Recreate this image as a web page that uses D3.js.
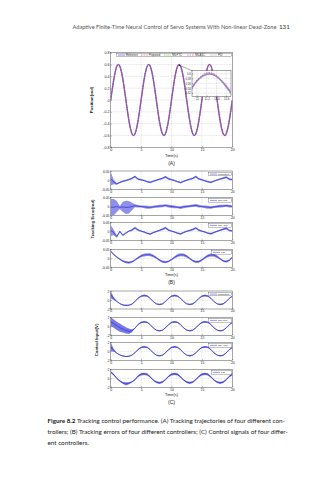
<!DOCTYPE html>
<html>
<head>
<meta charset="utf-8">
<script src="https://cdn.jsdelivr.net/npm/d3@7"></script>
<style>
  body { margin: 0; background: #fff; }
  svg { display: block; }
</style>
</head>
<body>
<div id="chart"></div>
<script>
// DATA
const time = [0,0.5,1,1.5,2,2.5,3,3.5,4,4.5,5,5.5,6,6.5,7,7.5,8,8.5,9,9.5,10,10.5,11,11.5,12,12.5,13,13.5,14,14.5,15,15.5,16,16.5,17,17.5,18,18.5,19,19.5,20];

// (A) position, rad
const posRef  = [0,0.35,0.57,0.57,0.35,0,-0.35,-0.57,-0.57,-0.35,0,0.35,0.57,0.57,0.35,0,-0.35,-0.57,-0.57,-0.35,0,0.35,0.57,0.57,0.35,0,-0.35,-0.57,-0.57,-0.35,0,0.35,0.57,0.57,0.35,0,-0.35,-0.57,-0.57,-0.35,0];
const posCtl1 = [0,0.34,0.57,0.571,0.352,0.002,-0.349,-0.569,-0.571,-0.352,0,0.35,0.57,0.571,0.351,0.001,-0.35,-0.57,-0.571,-0.351,0,0.35,0.57,0.571,0.351,0.001,-0.35,-0.57,-0.571,-0.351,0,0.35,0.57,0.571,0.351,0.001,-0.35,-0.57,-0.571,-0.351,0];
const posCtl2 = [0,0.33,0.565,0.572,0.353,0.003,-0.348,-0.568,-0.572,-0.353,0,0.35,0.571,0.572,0.352,0.002,-0.349,-0.57,-0.572,-0.352,0,0.35,0.571,0.572,0.352,0.002,-0.349,-0.57,-0.572,-0.352,0,0.35,0.571,0.572,0.352,0.002,-0.349,-0.57,-0.572,-0.352,0];
const posCtl3 = [0,0.34,0.568,0.57,0.35,0.001,-0.35,-0.57,-0.57,-0.351,0,0.35,0.57,0.57,0.35,0,-0.35,-0.57,-0.57,-0.35,0,0.35,0.57,0.57,0.35,0,-0.35,-0.57,-0.57,-0.35,0,0.35,0.57,0.57,0.35,0,-0.35,-0.57,-0.57,-0.35,0];
const posPID  = [0,0.32,0.56,0.574,0.356,0.006,-0.345,-0.566,-0.574,-0.355,-0.004,0.347,0.568,0.574,0.355,0.004,-0.347,-0.568,-0.574,-0.355,-0.004,0.347,0.568,0.574,0.355,0.004,-0.347,-0.568,-0.574,-0.355,-0.004,0.347,0.568,0.574,0.355,0.004,-0.347,-0.568,-0.574,-0.355,-0.004];
const posNames = ["Reference", "Proposed", "NN-FTC", "NN-ASC", "PID"];

// (A) zoomed peak near t = 11.25
const zoomTime = [10.9,11.0,11.1,11.2,11.3,11.4,11.5,11.6,11.7];
const zoomRef  = [0.540,0.568,0.586,0.596,0.597,0.588,0.570,0.547,0.519];
const zoomCtl1 = [0.545,0.572,0.590,0.601,0.602,0.592,0.574,0.551,0.523];
const zoomCtl2 = [0.542,0.570,0.589,0.600,0.599,0.587,0.567,0.542,0.513];
const zoomCtl3 = [0.544,0.573,0.592,0.603,0.603,0.593,0.575,0.553,0.526];
const zoomPID  = [0.543,0.571,0.588,0.598,0.598,0.589,0.571,0.548,0.520];

// (B) tracking errors, rad  (line value, chattering half-width)
const err1  = [0.008,-0.01,-0.02,-0.012,-0.006,-0.002,0.004,0.01,0.02,0.006,0.002,-0.002,-0.008,-0.012,-0.006,0,0.005,0.01,0.018,0.008,0.003,-0.002,-0.008,-0.013,-0.006,0,0.005,0.01,0.019,0.007,0.002,-0.003,-0.009,-0.012,-0.005,0.001,0.006,0.011,0.016,0.006,0.003];
const band1 = [0.037,0.012,0.005,0.004,0.004,0.004,0.004,0.005,0.006,0.005,0.004,0.004,0.004,0.005,0.004,0.004,0.004,0.005,0.006,0.005,0.004,0.004,0.004,0.005,0.004,0.004,0.004,0.005,0.006,0.005,0.004,0.004,0.004,0.005,0.004,0.004,0.004,0.005,0.006,0.005,0.004];
const err2  = [-0.004,-0.004,0,-0.005,-0.002,-0.005,-0.004,0,0.004,0.001,0,-0.002,-0.004,-0.005,-0.002,0,0.002,0.003,0.006,0.002,0,-0.002,-0.004,-0.006,-0.002,0,0.002,0.004,0.006,0.002,0,-0.002,-0.004,-0.005,-0.002,0,0.002,0.003,0.005,0.002,0];
const band2 = [0.045,0.045,0.03,0.008,0.028,0.036,0.034,0.02,0.008,0.007,0.006,0.007,0.008,0.007,0.006,0.007,0.008,0.007,0.006,0.007,0.008,0.007,0.006,0.007,0.008,0.007,0.006,0.007,0.008,0.007,0.006,0.007,0.008,0.007,0.006,0.007,0.008,0.007,0.006,0.007,0.006];
const err3  = [0.006,-0.005,-0.028,0,-0.02,-0.008,0.002,0.008,0.02,0.008,0.002,-0.003,-0.01,-0.014,-0.006,0,0.006,0.012,0.02,0.008,0.002,-0.003,-0.009,-0.013,-0.005,0.001,0.006,0.011,0.019,0.007,0.002,-0.003,-0.009,-0.012,-0.005,0.001,0.007,0.012,0.017,0.006,0.003];
const band3 = [0.03,0.015,0.006,0.005,0.005,0.004,0.004,0.005,0.006,0.005,0.004,0.004,0.004,0.005,0.004,0.004,0.004,0.005,0.006,0.005,0.004,0.004,0.004,0.005,0.004,0.004,0.004,0.005,0.006,0.005,0.004,0.004,0.004,0.005,0.004,0.004,0.004,0.005,0.006,0.005,0.004];
const err4  = [0.04,0.022,0.008,-0.004,-0.014,-0.02,-0.022,-0.018,-0.008,0.004,0.014,0.019,0.021,0.02,0.014,0.004,-0.008,-0.017,-0.02,-0.016,-0.006,0.006,0.016,0.02,0.019,0.012,0,-0.012,-0.018,-0.017,-0.008,0.005,0.015,0.019,0.018,0.01,-0.002,-0.013,-0.017,-0.01,0.006];
const band4 = [0.004,0.004,0.004,0.004,0.005,0.006,0.006,0.005,0.004,0.005,0.007,0.008,0.008,0.008,0.007,0.005,0.005,0.006,0.006,0.005,0.005,0.006,0.008,0.008,0.008,0.007,0.005,0.005,0.006,0.006,0.005,0.006,0.008,0.008,0.008,0.007,0.005,0.005,0.006,0.005,0.005];

// (C) control inputs, V
const u1  = [1.2,0.3,-0.3,-0.8,-1.1,-1.2,-1.15,-0.9,-0.3,0.4,0.85,1.0,0.88,0.35,-0.35,-0.85,-1.0,-0.87,-0.35,0.35,0.85,1.0,0.86,0.35,-0.35,-0.85,-1.0,-0.86,-0.35,0.35,0.85,1.0,0.87,0.35,-0.35,-0.85,-1.0,-0.86,-0.35,0.35,0.85];
const ub1 = [0.8,0.3,0.08,0.08,0.1,0.12,0.1,0.08,0.08,0.1,0.15,0.2,0.15,0.08,0.08,0.1,0.15,0.12,0.08,0.08,0.15,0.2,0.15,0.08,0.08,0.1,0.15,0.12,0.08,0.08,0.15,0.2,0.15,0.08,0.08,0.1,0.15,0.12,0.08,0.08,0.15];
const u2  = [1.0,0.6,0.1,-0.3,-0.6,-0.9,-1.1,-1.0,-0.4,0.4,0.85,1.0,0.88,0.35,-0.35,-0.85,-1.0,-0.87,-0.35,0.35,0.85,1.0,0.86,0.35,-0.35,-0.85,-1.0,-0.86,-0.35,0.35,0.85,1.0,0.87,0.35,-0.35,-0.85,-1.0,-0.86,-0.35,0.35,0.85];
const ub2 = [1.0,0.9,0.9,0.9,0.8,0.7,0.6,0.3,0.1,0.1,0.15,0.2,0.15,0.08,0.08,0.1,0.15,0.12,0.08,0.08,0.15,0.2,0.15,0.08,0.08,0.1,0.15,0.12,0.08,0.08,0.15,0.2,0.15,0.08,0.08,0.1,0.15,0.12,0.08,0.08,0.15];
const u3  = [1.0,0.2,-0.4,-0.8,-1.05,-1.15,-1.1,-0.85,-0.3,0.4,0.85,1.0,0.88,0.35,-0.35,-0.85,-1.0,-0.87,-0.35,0.35,0.85,1.0,0.86,0.35,-0.35,-0.85,-1.0,-0.86,-0.35,0.35,0.85,1.0,0.87,0.35,-0.35,-0.85,-1.0,-0.86,-0.35,0.35,0.85];
const ub3 = [1.0,0.3,0.08,0.08,0.1,0.12,0.1,0.08,0.08,0.1,0.15,0.2,0.15,0.08,0.08,0.1,0.15,0.12,0.08,0.08,0.15,0.2,0.15,0.08,0.08,0.1,0.15,0.12,0.08,0.08,0.15,0.2,0.15,0.08,0.08,0.1,0.15,0.12,0.08,0.08,0.15];
const u4  = [1.4,0.8,0.0,-0.6,-1.0,-1.25,-1.1,-0.8,-0.3,0.5,0.9,1.0,0.85,0.3,-0.4,-0.85,-1.0,-0.85,-0.3,0.4,0.9,1.0,0.85,0.3,-0.4,-0.85,-1.0,-0.85,-0.3,0.4,0.9,1.0,0.85,0.3,-0.4,-0.85,-1.0,-0.85,-0.3,0.4,0.9];
const ub4 = [0.2,0.2,0.15,0.15,0.2,0.35,0.2,0.15,0.15,0.2,0.25,0.25,0.25,0.15,0.15,0.2,0.25,0.2,0.15,0.15,0.25,0.25,0.25,0.15,0.15,0.2,0.25,0.2,0.15,0.15,0.25,0.25,0.25,0.15,0.15,0.2,0.25,0.2,0.15,0.15,0.25];

const ctlNames = ["Proposed", "NN-FTC", "NN-ASC", "PID"];

// ticks
const timeTicks = [0, 5, 10, 15, 20];
const posTicks = [-0.8, -0.6, -0.4, -0.2, 0, 0.2, 0.4, 0.6, 0.8];
const errTicks = [-0.05, 0, 0.05];
const uTicks = [-2, 0, 2];
const zoomXTicks = [11, 11.2, 11.4, 11.6];
const zoomYTicks = [0.52, 0.54, 0.56, 0.58, 0.6];

// LAYOUT
const W = 319, H = 480;
const left = 110.7, right = 232.3;
const axisFont = "'Liberation Sans', Arial, sans-serif";
const pageFont = "Lato, 'Open Sans', sans-serif";
const blue = "#3434d0";

const svg = d3.select("#chart").append("svg")
    .attr("width", W).attr("height", H)
    .style("font-family", axisFont);

const defs = svg.append("defs");
let clipId = 0;

// MATLAB style frame: grid, inward ticks, box
function frame(x, y, xTicks, yTicks, fs, opt = {}) {
    const g = svg.append("g");
    const [x0, x1] = x.range();
    const [yb, yt] = y.range();
    if (opt.grid !== false) {
        g.selectAll(".gx").data(xTicks.filter(d => x(d) > x0 + 0.5 && x(d) < x1 - 0.5)).join("line")
            .attr("x1", d => x(d)).attr("x2", d => x(d)).attr("y1", yt).attr("y2", yb)
            .attr("stroke", "#888").attr("stroke-width", 0.3).attr("stroke-dasharray", "0.7,0.9");
        g.selectAll(".gy").data(yTicks.filter(d => y(d) < yb - 0.5 && y(d) > yt + 0.5)).join("line")
            .attr("y1", d => y(d)).attr("y2", d => y(d)).attr("x1", x0).attr("x2", x1)
            .attr("stroke", "#888").attr("stroke-width", 0.3).attr("stroke-dasharray", "0.7,0.9");
    }
    const ax = g.append("g").attr("transform", `translate(0,${yb})`)
        .call(d3.axisBottom(x).tickValues(xTicks).tickSize(-1.2).tickSizeOuter(0).tickPadding(1).tickFormat(d => String(d)));
    const ay = g.append("g").attr("transform", `translate(${x0},0)`)
        .call(d3.axisLeft(y).tickValues(yTicks).tickSize(-1.2).tickSizeOuter(0).tickPadding(1.2).tickFormat(d => String(d)));
    [ax, ay].forEach(a => {
        a.attr("font-size", fs).attr("font-family", axisFont);
        a.selectAll("path.domain").remove();
        a.selectAll(".tick line").attr("stroke", "#000").attr("stroke-width", 0.3);
        a.selectAll("text").attr("fill", "#222");
    });
    g.append("rect").attr("x", x0).attr("y", yt).attr("width", x1 - x0).attr("height", yb - yt)
        .attr("fill", "none").attr("stroke", "#000").attr("stroke-width", 0.35);
    return g;
}

function clipFor(x, y) {
    const id = "clip" + (clipId++);
    const [x0, x1] = x.range();
    const [yb, yt] = y.range();
    defs.append("clipPath").attr("id", id).append("rect")
        .attr("x", x0).attr("y", yt).attr("width", x1 - x0).attr("height", yb - yt);
    return `url(#${id})`;
}

// HEADER
svg.append("text").attr("x", 72.5).attr("y", 28.5)
    .attr("font-family", pageFont).attr("font-size", 5.65).attr("fill", "#555")
    .text("Adaptive Finite-Time Neural Control of Servo Systems With Non-linear Dead-Zone");
svg.append("text").attr("x", 279).attr("y", 28.5)
    .attr("font-family", pageFont).attr("font-size", 6.2).attr("fill", "#333")
    .text("131");

// (A) POSITION
const xA = d3.scaleLinear().domain([0, 20]).range([left, right]);
const yA = d3.scaleLinear().domain([-0.8, 0.8]).range([147.3, 52.7]);
frame(xA, yA, timeTicks, posTicks, 3.6);

const posSeries = [posRef, posCtl1, posCtl2, posCtl3, posPID];
const posStyle = [
    { color: "#9a9aff", w: 1.6, dash: null },
    { color: "#ff2a2a", w: 0.6, dash: "1.6,0.9" },
    { color: "#1ec81e", w: 0.6, dash: "1.6,0.6,0.4,0.6" },
    { color: "#ff00ff", w: 0.6, dash: "1.6,0.9" },
    { color: "#222", w: 0.45, dash: "0.4,0.7" }
];
const lineA = d3.line().x((d, i) => xA(time[i])).y(d => yA(d)).curve(d3.curveNatural);
const gA = svg.append("g").attr("clip-path", clipFor(xA, yA));
posSeries.forEach((s, k) => {
    gA.append("path").datum(s).attr("d", lineA).attr("fill", "none")
        .attr("stroke", posStyle[k].color).attr("stroke-width", posStyle[k].w)
        .attr("stroke-dasharray", posStyle[k].dash);
});

// legend (A)
const legA = svg.append("g");
legA.append("rect").attr("x", 116.7).attr("y", 53.2).attr("width", 115).attr("height", 3.6)
    .attr("fill", "#fff").attr("stroke", "#000").attr("stroke-width", 0.25);
posNames.forEach((n, k) => {
    const lx = 118 + k * 23;
    legA.append("line").attr("x1", lx).attr("x2", lx + 7).attr("y1", 55).attr("y2", 55)
        .attr("stroke", posStyle[k].color).attr("stroke-width", Math.min(posStyle[k].w, 1.2))
        .attr("stroke-dasharray", posStyle[k].dash);
    legA.append("text").attr("x", lx + 8).attr("y", 56).attr("font-size", 2.6).attr("fill", "#222").text(n);
});

// inset
const xZ = d3.scaleLinear().domain([10.9, 11.7]).range([192, 231]);
const yZ = d3.scaleLinear().domain([0.505, 0.612]).range([96.7, 70.7]);
svg.append("rect").attr("x", 192).attr("y", 70.7).attr("width", 39).attr("height", 26)
    .attr("fill", "#fff");
frame(xZ, yZ, zoomXTicks, zoomYTicks, 2.7, { grid: true });
const lineZ = d3.line().x((d, i) => xZ(zoomTime[i])).y(d => yZ(d)).curve(d3.curveNatural);
const gZ = svg.append("g").attr("clip-path", clipFor(xZ, yZ));
[zoomRef, zoomCtl1, zoomCtl2, zoomCtl3, zoomPID].forEach((s, k) => {
    gZ.append("path").datum(s).attr("d", lineZ).attr("fill", "none")
        .attr("stroke", posStyle[k].color).attr("stroke-width", posStyle[k].w * 0.8)
        .attr("stroke-dasharray", posStyle[k].dash);
});

// arrow from inset to the peak
defs.append("marker").attr("id", "arr").attr("viewBox", "0 0 10 10")
    .attr("refX", 9).attr("refY", 5).attr("markerWidth", 5).attr("markerHeight", 5)
    .attr("orient", "auto").append("path").attr("d", "M0,1L10,5L0,9Z").attr("fill", "#000");
svg.append("line").attr("x1", 192).attr("y1", 70.7).attr("x2", xA(11.2)).attr("y2", yA(0.6) + 0.4)
    .attr("stroke", "#000").attr("stroke-width", 0.35).attr("marker-end", "url(#arr)");

svg.append("text").attr("transform", "translate(93,100) rotate(-90)")
    .attr("text-anchor", "middle").attr("font-size", 4.3).attr("font-weight", "bold").attr("fill", "#222")
    .text("Position(rad)");
svg.append("text").attr("x", 171.5).attr("y", 156.6).attr("text-anchor", "middle")
    .attr("font-size", 3.9).attr("fill", "#222").text("Time(s)");
svg.append("text").attr("x", 171.5).attr("y", 164.5).attr("text-anchor", "middle")
    .attr("font-size", 5).attr("fill", "#222").text("(A)");

// stacked subplots with chattering band
function stack(tops, h, dom, ticks, series, bands, fs, bandFill) {
    tops.forEach((top, k) => {
        const x = d3.scaleLinear().domain([0, 20]).range([left, right]);
        const y = d3.scaleLinear().domain(dom).range([top + h, top]);
        frame(x, y, timeTicks, ticks, fs);
        const g = svg.append("g").attr("clip-path", clipFor(x, y));
        const area = d3.area().x((d, i) => x(time[i]))
            .y0((d, i) => y(d - bands[k][i])).y1((d, i) => y(d + bands[k][i]))
            .curve(d3.curveLinear);
        const line = d3.line().x((d, i) => x(time[i])).y(d => y(d)).curve(d3.curveLinear);
        g.append("path").datum(series[k]).attr("d", area).attr("fill", bandFill);
        g.append("path").datum(series[k]).attr("d", line).attr("fill", "none")
            .attr("stroke", blue).attr("stroke-width", 0.75);
        // legend box
        const lw = k === 3 ? 20 : 23;
        const lx = right - lw - 0.8;
        const lg = svg.append("g");
        lg.append("rect").attr("x", lx).attr("y", top + 1.4).attr("width", lw).attr("height", 3.4)
            .attr("fill", "#fff").attr("stroke", "#000").attr("stroke-width", 0.25);
        lg.append("line").attr("x1", lx + 1.5).attr("x2", lx + 8.5).attr("y1", top + 3.1).attr("y2", top + 3.1)
            .attr("stroke", blue).attr("stroke-width", 0.5);
        lg.append("text").attr("x", lx + 9.5).attr("y", top + 4).attr("font-size", 2.5).attr("fill", "#222")
            .text(ctlNames[k]);
    });
}

// (B) ERRORS
const bTops = [171, 197.3, 222.3, 249.3];
stack(bTops, 18.4, [-0.05, 0.05], errTicks, [err1, err2, err3, err4], [band1, band2, band3, band4], 3.4, "#8f8fee");
svg.append("text").attr("transform", "translate(94,219) rotate(-90)")
    .attr("text-anchor", "middle").attr("font-size", 4.3).attr("font-weight", "bold").attr("fill", "#222")
    .text("Tracking Error(rad)");
svg.append("text").attr("x", 171.5).attr("y", 275.8).attr("text-anchor", "middle")
    .attr("font-size", 3.9).attr("fill", "#222").text("Time(s)");
svg.append("text").attr("x", 171.5).attr("y", 283.5).attr("text-anchor", "middle")
    .attr("font-size", 5).attr("fill", "#222").text("(B)");

// (C) CONTROL INPUTS
const cTops = [291, 317.3, 342.3, 369.3];
stack(cTops, 18, [-2, 2], uTicks, [u1, u2, u3, u4], [ub1, ub2, ub3, ub4], 3.4, "#7878e6");
svg.append("text").attr("transform", "translate(98,340) rotate(-90)")
    .attr("text-anchor", "middle").attr("font-size", 4.3).attr("font-weight", "bold").attr("fill", "#222")
    .text("Control Input(V)");
svg.append("text").attr("x", 171.5).attr("y", 395.8).attr("text-anchor", "middle")
    .attr("font-size", 3.9).attr("fill", "#222").text("Time(s)");
svg.append("text").attr("x", 171.5).attr("y", 403.5).attr("text-anchor", "middle")
    .attr("font-size", 5).attr("fill", "#222").text("(C)");

// CAPTION
const caption = [
    ["Figure 8.2", " Tracking control performance. (A) Tracking trajectories of four different con-"],
    ["", "trollers; (B) Tracking errors of four different controllers; (C) Control signals of four differ-"],
    ["", "ent controllers."]
];
caption.forEach((c, i) => {
    const t = svg.append("text").attr("x", 47.5).attr("y", 423 + i * 10.8)
        .attr("font-family", pageFont).attr("font-size", 6.3).attr("fill", "#222");
    if (c[0]) t.append("tspan").attr("font-weight", "bold").text(c[0]);
    t.append("tspan").text(c[1]);
});
</script>
</body>
</html>
